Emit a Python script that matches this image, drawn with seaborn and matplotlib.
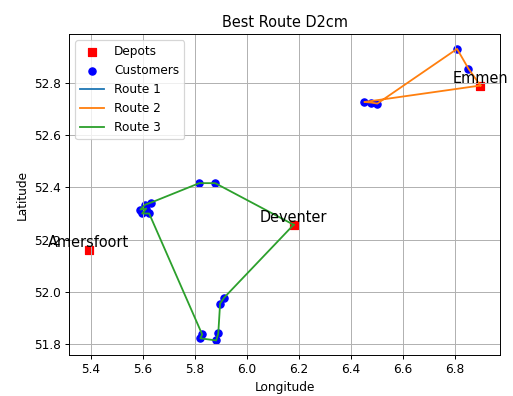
import matplotlib
matplotlib.use("Agg")
import matplotlib.pyplot as plt
import seaborn as sns
import pandas as pd

# Depot locations
depot_names = ["Amersfoort", "Deventer", "Emmen"]
depot_lon = [5.392, 6.180, 6.899]
depot_lat = [52.161, 52.257, 52.789]

# Route 2 customers (served from Emmen), in visiting order
route2_lon = [6.853, 6.809, 6.502, 6.479, 6.452]
route2_lat = [52.853, 52.929, 52.720, 52.724, 52.726]

# Route 3 customers (served from Deventer), in visiting order
route3_lon = [5.878, 5.817, 5.632, 5.609, 5.590, 5.613, 5.597, 5.624,
              5.828, 5.821, 5.882, 5.890, 5.897, 5.913]
route3_lat = [52.416, 52.416, 52.342, 52.334, 52.315, 52.319, 52.300, 52.300,
              51.838, 51.823, 51.815, 51.842, 51.956, 51.979]

customer_lon = route2_lon + route3_lon
customer_lat = route2_lat + route3_lat

# Each route starts and ends at its depot (Route 1 has no customers)
routes = {
    "Route 1": ([depot_lon[0], depot_lon[0]], [depot_lat[0], depot_lat[0]]),
    "Route 2": ([depot_lon[2]] + route2_lon + [depot_lon[2]],
                [depot_lat[2]] + route2_lat + [depot_lat[2]]),
    "Route 3": ([depot_lon[1]] + route3_lon + [depot_lon[1]],
                [depot_lat[1]] + route3_lat + [depot_lat[1]]),
}

dpi = 87
fig = plt.figure(figsize=(513 / dpi, 396 / dpi), dpi=dpi)
ax = fig.add_axes([0.1351, 0.1035, 0.8396, 0.8099])

sns.scatterplot(x=depot_lon, y=depot_lat, color="red", marker="s",
                s=36, edgecolor="red", linewidth=1, label="Depots", ax=ax)
sns.scatterplot(x=customer_lon, y=customer_lat, color="blue", marker="o",
                s=36, edgecolor="blue", linewidth=1, label="Customers", ax=ax)

colors = ["tab:blue", "tab:orange", "tab:green"]
for (name, (xs, ys)), c in zip(routes.items(), colors):
    df = pd.DataFrame({"lon": xs, "lat": ys})
    sns.lineplot(data=df, x="lon", y="lat", sort=False, estimator=None,
                 color=c, linewidth=1.5, label=name, ax=ax)

for name, x, y in zip(depot_names, depot_lon, depot_lat):
    ax.text(x, y, name, fontsize=12, ha="center", va="bottom")

ax.set_title("Best Route D2cm", fontsize=12)
ax.set_xlabel("Longitude")
ax.set_ylabel("Latitude")
ax.grid(True)
ax.legend(loc="upper left")

fig.savefig("out.png", dpi=dpi)
